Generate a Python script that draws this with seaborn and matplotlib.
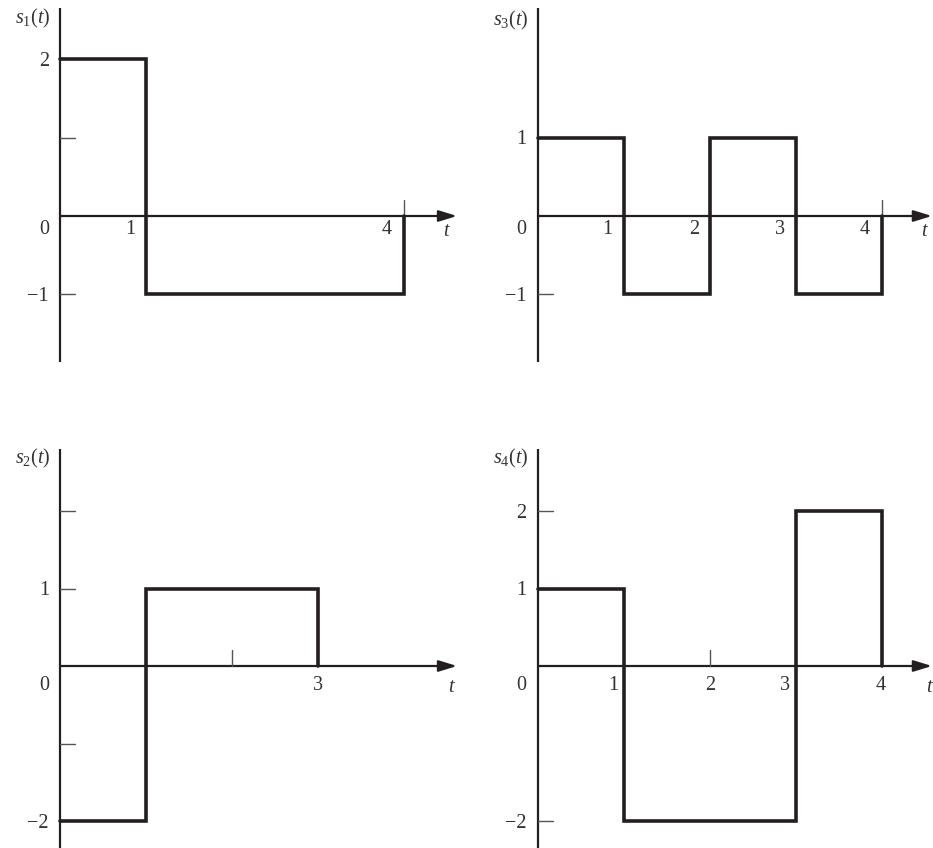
import matplotlib
matplotlib.use("Agg")
import matplotlib.pyplot as plt
import seaborn as sns

# signal breakpoints t and the level held from each t onward
s1_t = [0, 1, 4, 4]
s1_v = [2, -1, -1, 0]
s2_t = [0, 1, 3, 3]
s2_v = [-2, 1, 1, 0]
s3_t = [0, 1, 2, 3, 4, 4]
s3_v = [1, -1, 1, -1, -1, 0]
s4_t = [0, 1, 3, 4, 4]
s4_v = [1, -2, 2, 2, 0]

# unlabelled tick marks and labelled values on each axis
s1_yticks, s1_ylabels = [1, -1], [2, -1]
s1_xticks, s1_xlabels = [4], [1, 4]
s2_yticks, s2_ylabels = [2, 1, -1], [1, -2]
s2_xticks, s2_xlabels = [2], [3]
s3_yticks, s3_ylabels = [-1], [1, -1]
s3_xticks, s3_xlabels = [4], [1, 2, 3, 4]
s4_yticks, s4_ylabels = [2, 1, -2], [2, 1, -2]
s4_xticks, s4_xlabels = [2], [1, 2, 3, 4]

W, H, DPI = 933, 848, 100
LINE = "#231f20"
TEXT = "#333333"
TICK = "#555555"
FS = 14.5

sns.set_theme(style="white")
plt.rcParams["font.family"] = ["Liberation Serif", "DejaVu Serif"]
plt.rcParams["mathtext.fontset"] = "custom"
plt.rcParams["mathtext.rm"] = "Liberation Serif"
plt.rcParams["mathtext.it"] = "Liberation Serif:italic"

fig = plt.figure(figsize=(W / DPI, H / DPI), dpi=DPI)
fig.patch.set_facecolor("white")


def fmt(v):
    return str(v).replace("-", "\u2212")


def draw_panel(name, t, v, yticks, ylabels, xticks, xlabels, box, origin, unit,
               yspan, tip, xlab_dx, xlab_dy, ylab_dx, tlab_x, title_y):
    x0, y0, x1, y1 = box
    ox, oy = origin
    ux, uy = unit
    ax = fig.add_axes([x0 / W, 1 - y1 / H, (x1 - x0) / W, (y1 - y0) / H])
    ax.set_xlim((x0 - ox) / ux, (x1 - ox) / ux)
    ax.set_ylim((oy - y1) / uy, (oy - y0) / uy)
    ax.axis("off")

    # vertical axis and arrowed time axis
    ax.plot([0, 0], yspan, color=LINE, lw=1.6, solid_capstyle="butt", zorder=2)
    ax.annotate("", xy=(tip, 0), xytext=(0, 0),
                arrowprops=dict(arrowstyle="-|>,head_length=0.55,head_width=0.17",
                                color=LINE, lw=1.6, shrinkA=0, shrinkB=0,
                                mutation_scale=20), zorder=2)

    for yt in yticks:
        ax.plot([0, 15 / ux], [yt, yt], color=TICK, lw=1.0, zorder=2)
    for xt in xticks:
        ax.plot([xt, xt], [0, 16 / uy], color=TICK, lw=1.0, zorder=2)

    sns.lineplot(x=t, y=v, ax=ax, estimator=None, sort=False,
                 drawstyle="steps-post", color=LINE, linewidth=2.6,
                 solid_joinstyle="miter", legend=False, zorder=3)

    kw = dict(textcoords="offset pixels", color=TEXT, fontsize=FS)
    for yl in ylabels:
        ax.annotate(fmt(yl), xy=(0, yl), xytext=(ylab_dx, -2), ha="right", va="center", **kw)
    ax.annotate("0", xy=(0, 0), xytext=(ylab_dx, -xlab_dy), ha="right", va="center", **kw)
    for xl, dx in zip(xlabels, xlab_dx):
        ax.annotate(fmt(xl), xy=(xl, 0), xytext=(dx, -xlab_dy), ha="center", va="center", **kw)
    ax.annotate("$t$", xy=(tlab_x, 0), xytext=(0, -xlab_dy - 2), ha="center", va="center", **kw)
    ax.annotate("$s_%s(t)$" % name, xy=(0, title_y), xytext=(-10, 0),
                ha="right", va="center", **kw)
    return ax


top_u = (86, 78.3)
bot_u = (86, 77.5)

draw_panel("1", s1_t, s1_v, s1_yticks, s1_ylabels, s1_xticks, s1_xlabels,
           box=(0, 0, 466, 380), origin=(60, 216), unit=top_u,
           yspan=[(216 - 8) / 78.3, (216 - 362) / 78.3], tip=4.616,
           xlab_dx=[-16, -17], xlab_dy=14, ylab_dx=-11, tlab_x=4.5,
           title_y=(216 - 18) / 78.3)
draw_panel("3", s3_t, s3_v, s3_yticks, s3_ylabels, s3_xticks, s3_xlabels,
           box=(470, 0, 933, 380), origin=(538, 216), unit=top_u,
           yspan=[(216 - 8) / 78.3, (216 - 362) / 78.3], tip=4.58,
           xlab_dx=[-17, -16, -16, -17], xlab_dy=14, ylab_dx=-12, tlab_x=4.5,
           title_y=(216 - 20) / 78.3)
draw_panel("2", s2_t, s2_v, s2_yticks, s2_ylabels, s2_xticks, s2_xlabels,
           box=(0, 430, 466, 848), origin=(60, 666), unit=bot_u,
           yspan=[(666 - 449) / 77.5, -2.5], tip=4.616,
           xlab_dx=[0], xlab_dy=20, ylab_dx=-11, tlab_x=4.56,
           title_y=(666 - 458) / 77.5)
draw_panel("4", s4_t, s4_v, s4_yticks, s4_ylabels, s4_xticks, s4_xlabels,
           box=(470, 430, 933, 848), origin=(538, 666), unit=bot_u,
           yspan=[(666 - 449) / 77.5, -2.5], tip=4.58,
           xlab_dx=[-11, 0, -11, -1], xlab_dy=20, ylab_dx=-12, tlab_x=4.56,
           title_y=(666 - 458) / 77.5)

fig.savefig("out.png", dpi=DPI)
